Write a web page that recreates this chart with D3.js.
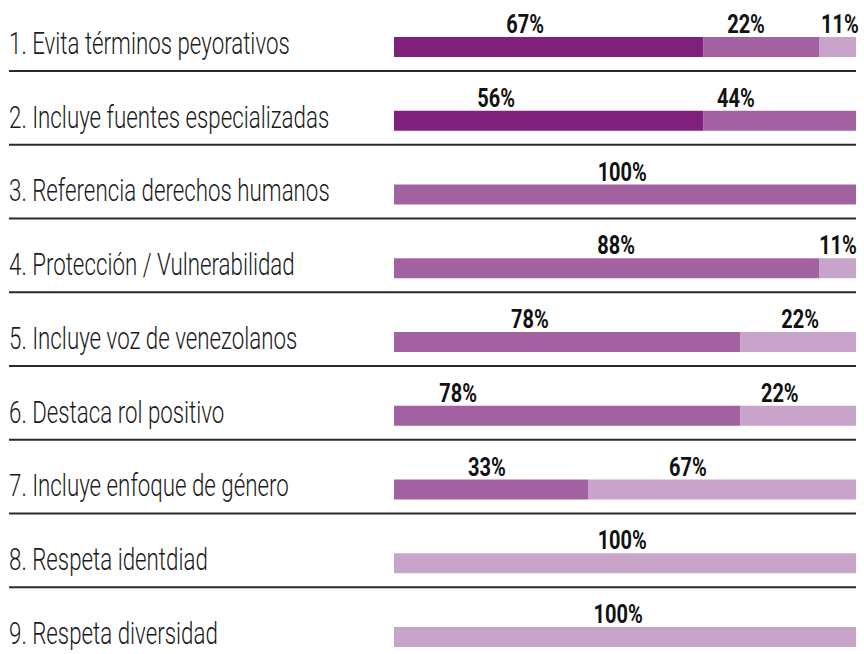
<!DOCTYPE html>
<head>
<meta charset="utf-8">
<style>
body { margin: 0; background: #fff; }
.cat { font-family: Roboto, "DejaVu Sans Condensed", sans-serif; font-size: 31px; font-weight: 300; fill: #1a1a1a; }
.pct { font-family: Roboto, "DejaVu Sans Condensed", sans-serif; font-size: 25px; font-weight: bold; fill: #111; }
.sep { stroke: #2a2a2a; stroke-width: 2; }
</style>
</head>
<body>
<script src="https://cdnjs.cloudflare.com/ajax/libs/d3/7.8.5/d3.min.js"></script>
<script>

var categories = [
  "1. Evita términos peyorativos",
  "2. Incluye fuentes especializadas",
  "3. Referencia derechos humanos",
  "4. Protección / Vulnerabilidad",
  "5. Incluye voz de venezolanos",
  "6. Destaca rol positivo",
  "7. Incluye enfoque de género",
  "8. Respeta identdiad",
  "9. Respeta diversidad"
];

// bar shares as drawn in the picture (percent of full bar)
var barDark  = [67, 67,   0,  0,  0,  0,  0,   0,   0];
var barMid   = [25, 33, 100, 92, 75, 75, 42,   0,   0];
var barLight = [ 8,  0,   0,  8, 25, 25, 58, 100, 100];

// printed values
var labelDark  = ["67%", "56%", "", "", "", "", "", "", ""];
var labelMid   = ["22%", "44%", "100%", "88%", "78%", "78%", "33%", "", ""];
var labelLight = ["11%", "", "", "11%", "22%", "22%", "67%", "100%", "100%"];

// where each printed value sits, on the same 0-100 scale
var labelAtDark  = [28.4, 22.1, 0, 0, 0, 0, 0, 0, 0];
var labelAtMid   = [76.2, 74.0, 49.4, 48.1, 29.4, 13.9, 20.1, 0, 0];
var labelAtLight = [96.5, 0, 0, 96.1, 87.9, 83.5, 63.6, 49.4, 48.5];

var colors = ["#80207d", "#a262a2", "#c8a4cb"];

// the picture uses a condensed face; squeeze the installed one
var catSqueeze = 0.72,
    pctSqueeze = 0.8;

var width = 864,
    height = 654;

var svg = d3.select("body").append("svg")
    .attr("width", width)
    .attr("height", height);

var x = d3.scaleLinear()
    .domain([0, 100])
    .range([394, 856]);

var y = d3.scaleBand()
    .domain(categories)
    .range([37, 647])
    .paddingInner(0.729)
    .paddingOuter(0);

var rows = categories.map(function(c, i) {
  return {cat: c, dark: barDark[i], mid: barMid[i], light: barLight[i]};
});

var keys = ["dark", "mid", "light"];
var stacked = d3.stack().keys(keys)(rows);

// separators
svg.selectAll(".sep")
    .data(categories.slice(0, -1))
  .enter().append("line")
    .attr("class", "sep")
    .attr("x1", 9)
    .attr("x2", x(100))
    .attr("y1", function(d) { return y(d) + y.bandwidth() + 14; })
    .attr("y2", function(d) { return y(d) + y.bandwidth() + 14; });

// bars
svg.selectAll(".layer")
    .data(stacked)
  .enter().append("g")
    .attr("class", "layer")
    .attr("fill", function(d, i) { return colors[i]; })
  .selectAll("rect")
    .data(function(d) { return d; })
  .enter().append("rect")
    .attr("x", function(d) { return x(d[0]); })
    .attr("width", function(d) { return x(d[1]) - x(d[0]); })
    .attr("y", function(d) { return y(d.data.cat); })
    .attr("height", y.bandwidth());

// category names
svg.selectAll(".cat")
    .data(categories)
  .enter().append("text")
    .attr("class", "cat")
    .attr("transform", function(d) {
      return "translate(9," + (y(d) + y.bandwidth() - 3) + ") scale(" + catSqueeze + ",1)";
    })
    .text(function(d) { return d; });

// value labels
var labelSets = [[labelDark, labelAtDark], [labelMid, labelAtMid], [labelLight, labelAtLight]];
var labels = [];
labelSets.forEach(function(set) {
  categories.forEach(function(c, i) {
    if (set[0][i]) labels.push({cat: c, text: set[0][i], at: set[1][i]});
  });
});

svg.selectAll(".pct")
    .data(labels)
  .enter().append("text")
    .attr("class", "pct")
    .attr("text-anchor", "middle")
    .attr("transform", function(d) {
      return "translate(" + x(d.at) + "," + (y(d.cat) - 4) + ") scale(" + pctSqueeze + ",1)";
    })
    .text(function(d) { return d.text; });

</script>
</body>
</html>
